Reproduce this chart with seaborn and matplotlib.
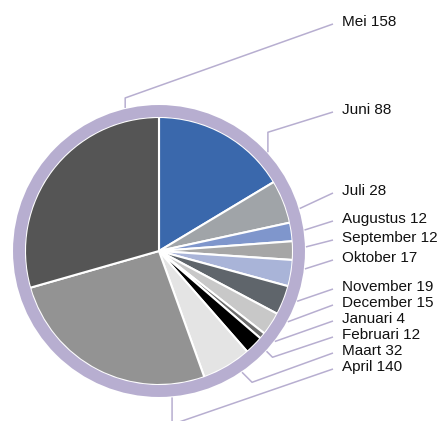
import numpy as np
import matplotlib
matplotlib.use("Agg")
import matplotlib.pyplot as plt
import seaborn as sns
from matplotlib.patches import Circle

# --- Dane ---
maanden = ["Juni", "Juli", "Augustus", "September", "Oktober", "November",
           "December", "Januari", "Februari", "Maart", "April", "Mei"]
aantallen = [88, 28, 12, 12, 17, 19, 15, 4, 12, 32, 140, 158]
kleuren = ["#3a68ac", "#a0a4a8", "#7f96cc", "#a6a6a6", "#a9b4d8", "#5f656b",
           "#c8c8c8", "#6e6e6e", "#000000", "#e4e4e4", "#939393", "#555555"]

# --- Layout (pixels, image coords) ---
W, H = 442, 421
cx, cy = 159, 251
r_pie = 134
ring_kleur = "#b7aed0"
label_x = 342
label_y = [110, 191, 219, 238, 258, 287, 303, 319, 335, 351, 367, 22]
# attach angle (deg, clockwise from top) and elbow offset (dx, dy) from attach point
attach = [47.8, 73.2, 81.8, 88.4, 97.0, 110.0, 118.8, 128.0, 133.0, 145.6, 174.9, 346.7]
elbow = [(0, -20), None, None, None, None, None, None, None, (6, 6), (10, 10), (0, 27), (0, -10)]

sns.set_style("white")
plt.rcParams["font.family"] = ["Liberation Sans", "DejaVu Sans"]

fig = plt.figure(figsize=(W / 100, H / 100), dpi=100)
ax = fig.add_axes([0, 0, 1, 1])

ax.pie(aantallen, colors=kleuren, center=(cx, H - cy), radius=r_pie,
       startangle=90, counterclock=False,
       wedgeprops=dict(edgecolor="white", linewidth=1.5))
ax.add_patch(Circle((cx, H - cy), r_pie + 6, fill=False, ec=ring_kleur, lw=8.6, zorder=5))

for naam, n, ly, a, el in zip(maanden, aantallen, label_y, attach, elbow):
    t = np.deg2rad(a)
    px = cx + (r_pie + 13) * np.sin(t)
    py = cy - (r_pie + 13) * np.cos(t)
    xs, ys = [px], [py]
    if el is not None:
        xs.append(px + el[0])
        ys.append(py + el[1])
    xs.append(label_x - 9)
    ys.append(ly + 2)
    ax.plot(xs, [H - y for y in ys], color=ring_kleur, lw=1.1, zorder=4,
            solid_capstyle="butt")
    ax.text(label_x, H - ly, f"{naam} {n}", fontsize=11, va="center",
            ha="left", color="#111111")

ax.set_xlim(0, W)
ax.set_ylim(0, H)
ax.set_aspect("equal")
ax.axis("off")
fig.savefig("out.png", dpi=100)
